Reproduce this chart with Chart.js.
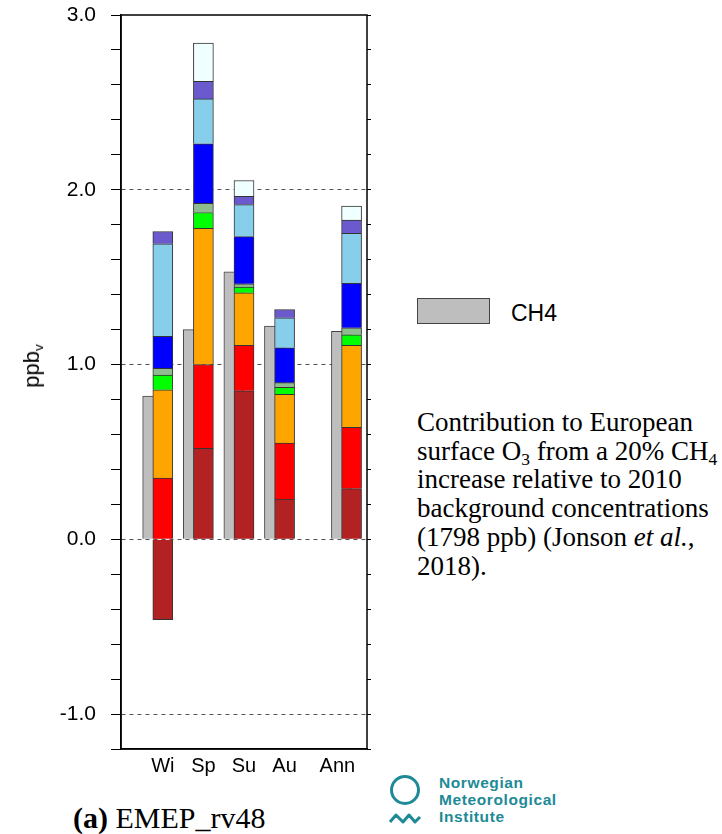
<!DOCTYPE html>
<html>
<head>
<meta charset="utf-8">
<script src="https://cdn.jsdelivr.net/npm/chart.js@4.4.1/dist/chart.umd.min.js"></script>
<style>
  body { margin: 0; width: 722px; height: 834px; background: #fff; position: relative; overflow: hidden; }
  #wrap { position: absolute; left: 0; top: 0; width: 380px; height: 800px; }
  .abs { position: absolute; white-space: nowrap; }
  #ylab { left: 32px; top: 366px; font: 22px 'Liberation Sans', Arial, sans-serif; transform: translate(-50%, -50%) rotate(-90deg); }
  #ylab sub { font-size: 0.62em; vertical-align: -0.3em; line-height: 0; }
  #legbox { left: 417px; top: 298px; width: 71px; height: 24px; background: #bebebe; border: 1.5px solid #444; }
  #legtxt { left: 511px; top: 302px; font: 23px/23px 'Liberation Sans', Arial, sans-serif; }
  #caption { left: 417px; top: 408px; font: 27px/28.7px 'Liberation Serif', 'Times New Roman', serif; color: #000; }
  #caption sub { font-size: 0.65em; vertical-align: -0.3em; line-height: 0; }
  #panel { left: 73px; top: 803px; font: 30px/30px 'Liberation Serif', 'Times New Roman', serif; }
  #logo { left: 385px; top: 770px; }
  #logotxt { left: 439px; top: 774px; font: bold 15.5px/17px 'Liberation Sans', Arial, sans-serif; letter-spacing: 0.6px; color: #1d8a96; }
</style>
</head>
<body>
<div id="wrap"><canvas id="chart"></canvas></div>
<div class="abs" id="ylab">ppb<sub>v</sub></div>
<div class="abs" id="legbox"></div>
<div class="abs" id="legtxt">CH4</div>
<div class="abs" id="caption">Contribution to European<br>surface O<sub>3</sub> from a 20% CH<sub>4</sub><br>increase relative to 2010<br>background concentrations<br>(1798 ppb) (Jonson <i>et al.</i>,<br>2018).</div>
<div class="abs" id="panel"><b>(a)</b> EMEP_rv48</div>
<svg class="abs" id="logo" width="40" height="60">
  <circle cx="20" cy="20" r="13.5" fill="none" stroke="#1d8a96" stroke-width="3"/>
  <polyline points="5,52 11,45 18,52 24,45 30,52 35,47" fill="none" stroke="#1d8a96" stroke-width="3" stroke-linejoin="round"/>
</svg>
<div class="abs" id="logotxt">Norwegian<br>Meteorological<br>Institute</div>
<script>
// seasons + annual mean
const categories = ['Wi', 'Sp', 'Su', 'Au', 'Ann'];

// CH4 total (grey bar behind)
const ch4 = [0.82, 1.20, 1.53, 1.22, 1.19];

// stacked contributions, bottom to top
const darkRed   = [-0.46, 0.52, 0.85, 0.23, 0.29];
const red       = [0.35, 0.48, 0.26, 0.32, 0.35];
const orange    = [0.505, 0.78, 0.30, 0.28, 0.47];
const green     = [0.085, 0.09, 0.033, 0.04, 0.06];
const seaGreen  = [0.038, 0.053, 0.019, 0.026, 0.04];
const blue      = [0.183, 0.34, 0.27, 0.20, 0.254];
const skyBlue   = [0.53, 0.257, 0.183, 0.171, 0.286];
const slateBlue = [0.07, 0.10, 0.048, 0.048, 0.076];
const azure     = [null, 0.22, 0.09, null, 0.08];

// layout on the x axis
const slotX = [1, 2, 3, 4, 5.65];
const labelX = [1, 2, 3, 4, 5.3];
const ch4Shift = 0.25;

const layers = [
  { name: 'darkred', values: darkRed, color: '#b22222' },
  { name: 'red', values: red, color: '#ff0000' },
  { name: 'orange', values: orange, color: '#ffa500' },
  { name: 'green', values: green, color: '#00ff00' },
  { name: 'seagreen', values: seaGreen, color: '#8fbc8f' },
  { name: 'blue', values: blue, color: '#0000ff' },
  { name: 'skyblue', values: skyBlue, color: '#87ceeb' },
  { name: 'slateblue', values: slateBlue, color: '#6a5acd' },
  { name: 'azure', values: azure, color: '#f0ffff' }
];

const pts = (vals, shift) => vals.map((v, i) => ({ x: slotX[i] + shift, y: v }));
const isWhole = v => Math.abs(v - Math.round(v)) < 1e-6;

const frame = {
  id: 'frame',
  afterDraw(chart) {
    const { ctx, chartArea: a } = chart;
    ctx.save();
    ctx.strokeStyle = '#000';
    ctx.lineWidth = 1.5;
    ctx.strokeRect(a.left, a.top, a.right - a.left, a.bottom - a.top);
    ctx.restore();
  }
};

Chart.defaults.font.family = "'Liberation Sans', Arial, sans-serif";
Chart.defaults.color = '#000';

new Chart(document.getElementById('chart'), {
  type: 'bar',
  data: {
    datasets: [
      { label: 'CH4', data: pts(ch4, -ch4Shift), backgroundColor: '#bebebe', borderColor: '#444', stack: 'ch4', order: 2 },
      ...layers.map(l => ({ label: l.name, data: pts(l.values, 0), backgroundColor: l.color, stack: 'src', order: 1 }))
    ]
  },
  options: {
    animation: false,
    responsive: true,
    maintainAspectRatio: false,
    layout: { padding: { top: 15 } },
    plugins: { legend: { display: false }, tooltip: { enabled: false } },
    datasets: { bar: { grouped: false, barThickness: 20, borderWidth: 1, borderColor: '#333' } },
    scales: {
      x: {
        type: 'linear', min: -0.03, max: 6.03, offset: false,
        grid: { display: false, drawTicks: false },
        border: { display: true, color: '#000', width: 1.5 },
        afterBuildTicks: s => { s.ticks = labelX.map(v => ({ value: v })); },
        ticks: { autoSkip: false, maxRotation: 0, padding: 5, font: { size: 20 }, callback: (v, i) => categories[i] },
        afterFit: s => { s.height = 51; s.paddingLeft = 0; s.paddingRight = 0; }
      },
      y: {
        stacked: true, min: -1.2, max: 3.0,
        ticks: { stepSize: 0.2, autoSkip: false, padding: 15, font: { size: 21 },
          callback: v => isWhole(v) ? v.toFixed(1) : '' },
        grid: {
          color: c => (c.tick && isWhole(c.tick.value) && c.tick.value < 2.9) ? '#555' : 'rgba(0,0,0,0)',
          lineWidth: 1, tickColor: '#000', tickLength: 10, tickWidth: 1
        },
        border: { display: true, color: '#000', width: 1.5, dash: [4, 4] },
        afterFit: s => { s.width = 121; s.paddingTop = 0; s.paddingBottom = 0; }
      },
      y2: {
        position: 'right', min: -1.2, max: 3.0,
        ticks: { display: false, stepSize: 0.2 },
        grid: { drawOnChartArea: false, tickLength: 4, tickColor: '#000' },
        border: { display: false },
        afterFit: s => { s.width = 13; s.paddingTop = 0; s.paddingBottom = 0; }
      }
    }
  },
  plugins: [frame]
});
</script>
</body>
</html>
